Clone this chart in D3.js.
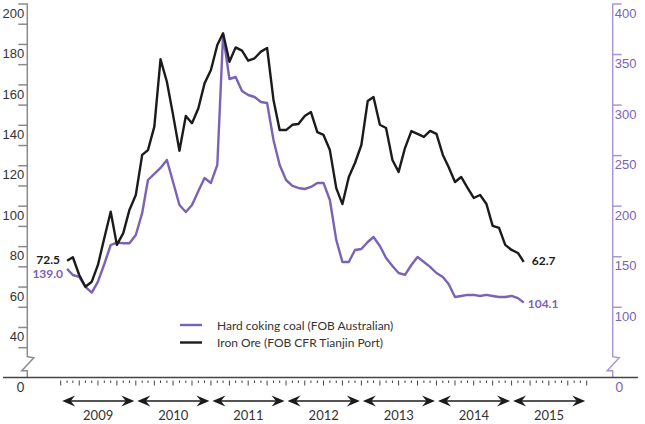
<!DOCTYPE html>
<html lang="en">
<head>
    <meta charset="utf-8">
    <script src="https://cdn.jsdelivr.net/npm/d3@7/dist/d3.min.js"></script>
    <style>
        body { margin: 0; background: #fff; }
        svg { font-family: Lato, "Open Sans", sans-serif; }
        .line { fill: none; stroke-width: 2.4; stroke-linejoin: round; }
    </style>
</head>
<body>
<script>

    // monthly values, Feb 2009 .. Mar 2015
    let months = d3.timeMonth.range(new Date(2009, 1, 1), new Date(2015, 3, 1));

    // iron ore, US$/t (left axis)
    let ironOre = [72.8, 74.5, 65.7, 59.9, 62.4, 70.7, 84, 97, 80.6, 86.4,
        97.9, 105.3, 125.1, 127.5, 139.1, 172.4, 161.3, 144.9, 127.2, 144.4,
        140.8, 148.2, 160.5, 167.1, 179.5, 185.3, 171.2, 178.3, 176.7, 171.7,
        172.9, 176.2, 178, 152.3, 137.4, 137.4, 140, 140.4, 144.4, 146.3,
        136.4, 135, 127.5, 108.7, 100.8, 114.2, 121.1, 130, 151.8, 153.8,
        140, 138.4, 122.6, 116.7, 128.5, 136.9, 135.5, 134, 137, 135.5,
        125.1, 119.1, 111.7, 114.2, 108.8, 103.8, 105.3, 100.8, 90, 89,
        80.6, 78.1, 76.6, 72.2];

    // hard coking coal, US$/t (right axis)
    let cokingCoal = [137.5, 131.4, 129.5, 119.6, 114, 124.8, 142.3, 161.1, 163.4, 162.8,
        162.8, 171, 192.8, 225.4, 231.4, 237.3, 245.2, 223.4, 200.7, 193.8,
        200.7, 214.5, 227.4, 222.5, 240.3, 368.8, 325.3, 327.3, 313.5, 309.5,
        307.5, 302.6, 301.6, 265, 240.3, 225.4, 219.5, 217.5, 216.5, 218.5,
        222.5, 222.5, 205.6, 166.1, 144.3, 144.3, 156.2, 157.2, 164.1, 169,
        160.1, 148.3, 140.4, 133.4, 131.5, 141.3, 149.3, 144.3, 139.4, 133.4,
        129.5, 122.5, 109.7, 110.7, 111.7, 111.7, 110.7, 111.7, 110.7, 109.7,
        109.7, 110.7, 108.6, 104.1];

    let years = [2009, 2010, 2011, 2012, 2013, 2014, 2015];
    let leftTicks = d3.range(30, 201, 10);
    let leftLabels = [40, 60, 80, 100, 120, 140, 160, 180, 200];
    let rightTicks = [100, 150, 200, 250, 300, 350, 400];
    let startLabels = {iron: '72.5', coal: '139.0'};
    let endLabels = {iron: '62.7', coal: '104.1'};
    let seriesNames = ['Hard coking coal (FOB Australian)', 'Iron Ore (FOB CFR Tianjin Port)'];

    let purple = '#7a62b6', black = '#1b1b1b', axisGrey = '#8a8a8a', textCol = '#333';

    let svg = d3.select('body').append('svg')
        .attr('width', 645).attr('height', 424);

    let x = d3.scaleTime()
        .domain([new Date(2009, 0, 1), new Date(2016, 0, 1)])
        .range([60.7, 586.7]);
    let yL = d3.scaleLinear().domain([30, 200]).range([347.2, 3.5]);
    let yR = d3.scaleLinear().domain([60, 400]).range([347.2, 3.5]);

    let axisX = 27.3, axisRX = 612.7, baseY = 377.5;

    // left axis
    let gL = svg.append('g').attr('transform', 'translate(' + axisX + ',0)')
        .call(d3.axisLeft(yL).tickValues(leftTicks).tickSize(9).tickPadding(-6)
            .tickFormat(function (d) { return leftLabels.indexOf(d) >= 0 ? d : ''; }));
    gL.select('.domain').remove();
    gL.selectAll('line').attr('stroke', axisGrey).attr('stroke-width', 1.5);
    gL.selectAll('text').attr('dy', '1.05em').attr('fill', textCol)
        .attr('font-size', 13).attr('font-family', null);

    // right axis
    let gR = svg.append('g').attr('transform', 'translate(' + axisRX + ',0)')
        .call(d3.axisRight(yR).tickValues(rightTicks).tickSize(9).tickPadding(-7));
    gR.select('.domain').remove();
    gR.selectAll('line').attr('stroke', '#a997d4').attr('stroke-width', 1.5);
    gR.selectAll('text').attr('dy', '1.05em').attr('fill', purple)
        .attr('font-size', 13).attr('font-family', null);

    // axis spines with break marks
    function spine(ax, top) {
        let b = yL(30) + 9.5;
        return 'M' + ax + ',' + top + 'V' + b + 'L' + (ax + 6.5) + ',' + (b + 1) +
            'L' + (ax - 5.5) + ',' + (b + 14) + 'H' + ax + 'V' + baseY;
    }
    svg.append('path').attr('d', spine(axisX, yL(200)))
        .attr('fill', 'none').attr('stroke', axisGrey).attr('stroke-width', 1.5);
    svg.append('path').attr('d', spine(axisRX, yR(400)))
        .attr('fill', 'none').attr('stroke', '#a997d4').attr('stroke-width', 1.5);

    // x baseline
    svg.append('line').attr('x1', 3).attr('x2', 638).attr('y1', baseY).attr('y2', baseY)
        .attr('stroke', '#444').attr('stroke-width', 1.3);
    svg.append('text').attr('x', 20.5).attr('y', 391.5).attr('text-anchor', 'middle')
        .attr('font-size', 13).attr('fill', textCol).text('0');
    svg.append('text').attr('x', 619.3).attr('y', 391.5).attr('text-anchor', 'middle')
        .attr('font-size', 13).attr('fill', purple).text('0');

    // monthly ticks
    let monthTicks = d3.timeMonth.range(new Date(2009, 0, 1), new Date(2016, 0, 2));
    svg.append('g').selectAll('line').data(monthTicks).enter().append('line')
        .attr('x1', function (d) { return x(d); })
        .attr('x2', function (d) { return x(d); })
        .attr('y1', baseY + 3)
        .attr('y2', function (d) { return d.getMonth() % 3 === 0 ? baseY + 8 : baseY + 5.5; })
        .attr('stroke', '#444').attr('stroke-width', 1);

    // year arrows
    function head(tipX, dir, yy) {
        let L = 13, h = 5.5, n = 8.5;
        return 'M' + tipX + ',' + yy +
            'L' + (tipX + dir * L) + ',' + (yy - h) +
            'L' + (tipX + dir * n) + ',' + yy +
            'L' + (tipX + dir * L) + ',' + (yy + h) + 'Z';
    }
    let arrowY = 401;
    let yearG = svg.append('g').selectAll('g').data(years).enter().append('g');
    yearG.append('line')
        .attr('x1', function (d) { return x(new Date(d, 0, 1)) + 4; })
        .attr('x2', function (d) { return x(new Date(d + 1, 0, 1)) - 4; })
        .attr('y1', arrowY).attr('y2', arrowY)
        .attr('stroke', black).attr('stroke-width', 1.5);
    yearG.append('path')
        .attr('d', function (d) { return head(x(new Date(d, 0, 1)) + 1.5, 1, arrowY); })
        .attr('fill', black);
    yearG.append('path')
        .attr('d', function (d) { return head(x(new Date(d + 1, 0, 1)) - 1.5, -1, arrowY); })
        .attr('fill', black);
    yearG.append('text')
        .attr('x', function (d) { return x(new Date(d, 6, 2)); })
        .attr('y', 420).attr('text-anchor', 'middle')
        .attr('font-size', 13).attr('fill', textCol)
        .text(function (d) { return d; });

    // lines
    let coalLine = d3.line()
        .x(function (d, i) { return x(months[i]); })
        .y(function (d) { return yR(d); });
    let ironLine = d3.line()
        .x(function (d, i) { return x(months[i]); })
        .y(function (d) { return yL(d); });

    svg.append('path').datum(cokingCoal).attr('class', 'line')
        .attr('stroke', purple).attr('d', coalLine);
    svg.append('path').datum(ironOre).attr('class', 'line')
        .attr('stroke', black).attr('d', ironLine);

    // start / end value labels
    let last = months.length - 1;
    svg.append('text').attr('x', x(months[0]) - 7).attr('y', yL(ironOre[0]) + 3)
        .attr('text-anchor', 'end').attr('font-size', 12).attr('font-weight', 'bold')
        .attr('fill', black).text(startLabels.iron);
    svg.append('text').attr('x', x(months[0]) - 4).attr('y', yR(cokingCoal[0]) + 9.5)
        .attr('text-anchor', 'end').attr('font-size', 12).attr('font-weight', 'bold')
        .attr('fill', purple).text(startLabels.coal);
    svg.append('text').attr('x', x(months[last]) + 8).attr('y', yL(ironOre[last]) + 3)
        .attr('font-size', 12).attr('font-weight', 'bold')
        .attr('fill', black).text(endLabels.iron);
    svg.append('text').attr('x', x(months[last]) + 4).attr('y', yR(cokingCoal[last]) + 5)
        .attr('font-size', 12).attr('font-weight', 'bold')
        .attr('fill', purple).text(endLabels.coal);

    // legend
    let legend = svg.append('g').selectAll('g').data(seriesNames).enter().append('g')
        .attr('transform', function (d, i) { return 'translate(180,' + (325 + i * 17.5) + ')'; });
    legend.append('line').attr('x1', 0).attr('x2', 22).attr('y1', 0).attr('y2', 0)
        .attr('stroke', function (d, i) { return i === 0 ? purple : black; })
        .attr('stroke-width', 2.4);
    legend.append('text').attr('x', 37).attr('y', 4.5)
        .attr('font-size', 12).attr('fill', textCol)
        .text(function (d) { return d; });

</script>
</body>
</html>
